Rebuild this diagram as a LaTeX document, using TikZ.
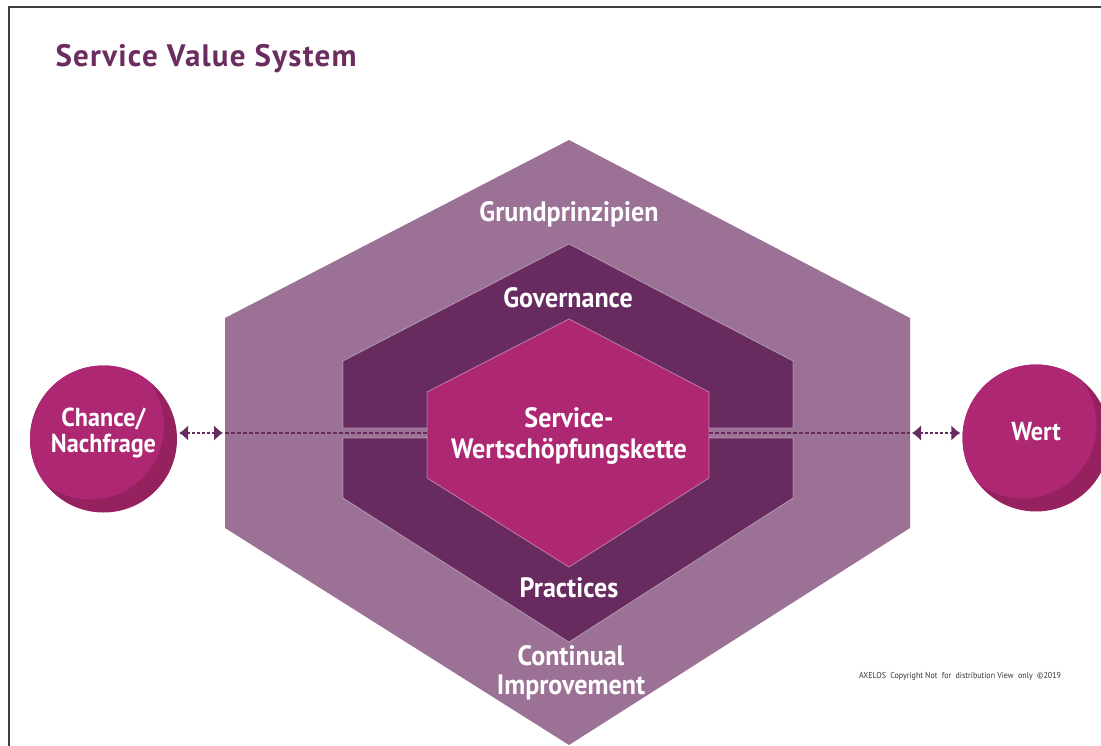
\documentclass[tikz,border=0pt]{standalone}
\usepackage{fontspec}
\usetikzlibrary{positioning,arrows.meta,calc}
\newfontfamily\labelfont[FakeStretch=0.93]{PT Sans}
\newfontfamily\titlefont[LetterSpace=4]{PT Sans}
\definecolor{svsouter}{HTML}{9B7296}
\definecolor{svsmid}{HTML}{682B5F}
\definecolor{svsinner}{HTML}{AE2772}
\definecolor{svsshade}{HTML}{96215F}
\definecolor{svstitle}{HTML}{6B2C5F}
\tikzset{
  hexlabel/.style={text=white,font=\labelfont\bfseries\fontsize{28}{31}\selectfont,align=center,inner sep=0pt},
  balltext/.style={text=white,align=center,inner sep=0pt,yshift=6pt,
    font=\labelfont\bfseries\fontsize{26}{26}\selectfont},
  edge/.style={draw=white,draw opacity=0.4,line width=0.8pt},
  ball/.style={circle,minimum size=147pt,inner sep=0pt,fill=svsshade,
    path picture={\fill[svsinner] ([shift={(-13,-13)}]path picture bounding box.center) circle (73.5pt);}},
  flow/.style={svsmid,line width=2pt,dash pattern=on 3pt off 2pt,shorten <=2pt,shorten >=2pt,
    {Latex[length=9pt,width=16pt]}-{Latex[length=9pt,width=16pt]}},
  link/.style={svsmid,line width=1.2pt,dash pattern=on 4pt off 2pt}
}

\begin{document}
\begin{tikzpicture}[x=1pt,y=-1pt]
\useasboundingbox (0,0) rectangle (1101,746);
\clip (0,0) rectangle (1101,746);
\draw[black!75,line width=1.5pt] (9,760) -- (9,7) -- (1110,7);

\node[anchor=base west,text=svstitle,font=\titlefont\bfseries\fontsize{31}{31}\selectfont] (title) at (52,67) {Service Value System};

\fill[svsouter] (225,318) -- (569,140) -- (910,318) -- (910,528) -- (569,745) -- (225,528) -- cycle;
\filldraw[fill=svsmid,edge] (343,428) -- (343,361) -- (569,244) -- (793,361) -- (793,428) -- cycle;
\filldraw[fill=svsmid,edge] (343,438) -- (343,498) -- (569,642) -- (793,498) -- (793,438) -- cycle;
\filldraw[fill=svsinner,edge] (427,392) -- (569,319) -- (709,392) -- (709,478) -- (569,567) -- (427,478) -- cycle;

\coordinate (svs-w) at (225,433);
\coordinate (svs-e) at (910,433);
\coordinate (chain-w) at (427,433);
\coordinate (chain-e) at (709,433);

\node[hexlabel] (principles) at (569,214) {Grundprinzipien};
\node[hexlabel] (governance) at (568,298) {Governance};
\node[hexlabel] (chain) at (569,436) {Service-\\Wertschöpfungskette};
\node[hexlabel] (practices) at (569,588) {Practices};
\node[hexlabel] (improvement) at (571,673) {Continual\\[-2pt]Improvement};

\node[ball,label={[balltext]center:{Chance/\\Nachfrage}}] (chance) at (103.5,439) {};
\node[ball,label={[balltext]center:Wert}] (value) at (1036,438) {};

\draw[flow] (chance.east |- svs-w) -- (svs-w);
\draw[flow] (svs-e) -- (value.west |- svs-e);
\draw[link] (svs-w) -- (chain-w);
\draw[link] (chain-e) -- (svs-e);

\node[font=\labelfont\fontsize{8.6}{9}\selectfont,text=black!80] (copyright) at (960,676) {AXELOS \ Copyright Not \ for \ distribution View \ only \ \textcopyright2019};

\end{tikzpicture}
\end{document}
